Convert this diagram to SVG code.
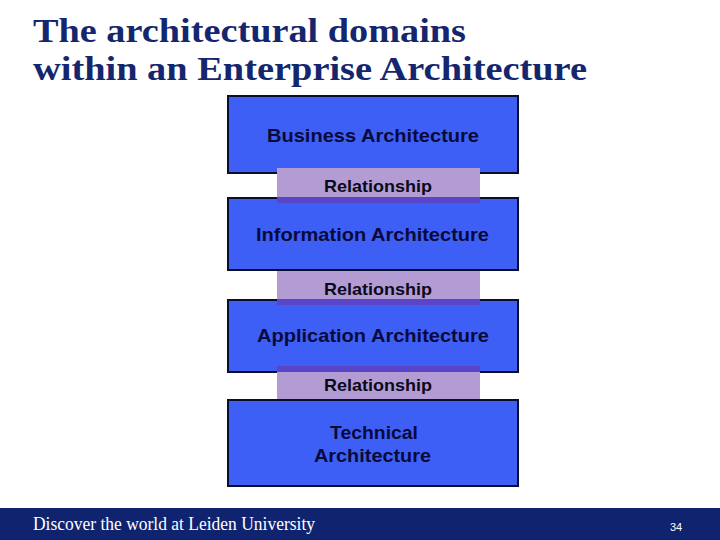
<svg xmlns="http://www.w3.org/2000/svg" width="720" height="540" viewBox="0 0 720 540">
<style>
.box{fill:#3d5ff5;stroke:#0c0c2c;stroke-width:2}
.band{fill:#b39cd4}
.strip{fill:#5a44c8}
.lbl{font-family:"Liberation Sans",Arial,sans-serif;font-weight:bold;fill:#0a0a3a;font-size:19px}
.rel{font-family:"Liberation Sans",Arial,sans-serif;font-weight:bold;fill:#0a0a1a;font-size:17px}
.title{font-family:"Liberation Serif","Times New Roman",serif;font-weight:bold;fill:#14276e;font-size:33px}
</style>
<rect width="720" height="540" fill="#ffffff"/>
<g id="title">
<text class="title" x="33" y="42" textLength="433" lengthAdjust="spacingAndGlyphs">The architectural domains</text>
<text class="title" x="33" y="80" textLength="554" lengthAdjust="spacingAndGlyphs">within an Enterprise Architecture</text>
</g>
<g id="business">
<rect class="box" x="228" y="96" width="290" height="77"/>
<text class="lbl" x="267" y="142" textLength="212" lengthAdjust="spacingAndGlyphs">Business Architecture</text>
</g>
<g id="information">
<rect class="box" x="228" y="198" width="290" height="72"/>
<text class="lbl" x="256" y="241" textLength="233" lengthAdjust="spacingAndGlyphs">Information Architecture</text>
</g>
<g id="application">
<rect class="box" x="228" y="300" width="290" height="72"/>
<text class="lbl" x="257" y="342" textLength="232" lengthAdjust="spacingAndGlyphs">Application Architecture</text>
</g>
<g id="technical">
<rect class="box" x="228" y="400" width="290" height="86"/>
<text class="lbl" x="330" y="439" textLength="88" lengthAdjust="spacingAndGlyphs">Technical</text>
<text class="lbl" x="314" y="462" textLength="117" lengthAdjust="spacingAndGlyphs">Architecture</text>
</g>
<g id="connectors">
<g id="rel1">
<rect class="band" x="277" y="168" width="203" height="30"/>
<rect class="strip" x="277" y="197" width="203" height="6"/>
<text class="rel" x="324" y="192" textLength="108" lengthAdjust="spacingAndGlyphs">Relationship</text>
</g>
<g id="rel2">
<rect class="band" x="277" y="271" width="203" height="29"/>
<rect class="strip" x="277" y="299" width="203" height="6"/>
<text class="rel" x="324" y="295" textLength="108" lengthAdjust="spacingAndGlyphs">Relationship</text>
</g>
<g id="rel3">
<rect class="strip" x="277" y="366" width="203" height="6"/>
<rect class="band" x="277" y="372" width="203" height="27"/>
<text class="rel" x="324" y="391" textLength="108" lengthAdjust="spacingAndGlyphs">Relationship</text>
</g>
</g>
<g id="footer">
<rect x="0" y="508" width="720" height="32" fill="#0f236f"/>
<text x="33" y="530" font-family="Liberation Serif,'Times New Roman',serif" font-size="18" fill="#ffffff" textLength="282" lengthAdjust="spacingAndGlyphs">Discover the world at Leiden University</text>
<text x="670" y="531" font-family="Liberation Sans,Arial,sans-serif" font-size="11" fill="#ffffff">34</text>
</g>
</svg>
